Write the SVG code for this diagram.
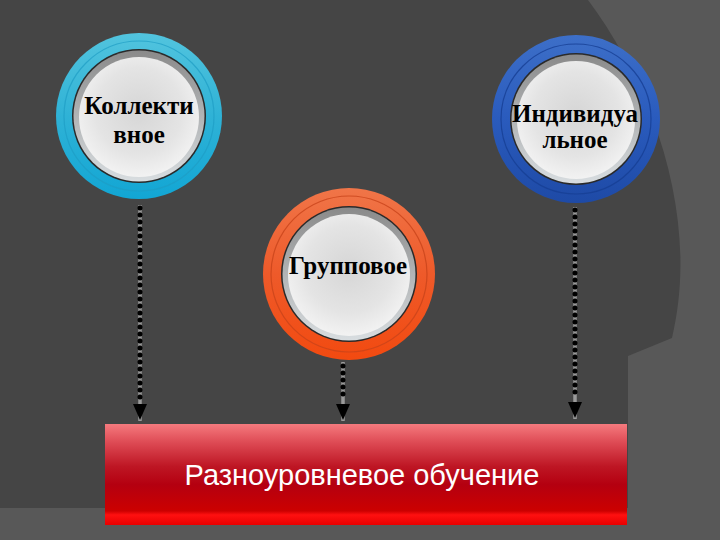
<svg xmlns="http://www.w3.org/2000/svg" width="720" height="540" viewBox="0 0 720 540">
<defs>
  <linearGradient id="gCyan" x1="0" y1="0" x2="0" y2="1">
    <stop offset="0" stop-color="#52c4de"/>
    <stop offset="0.5" stop-color="#2fb2d6"/>
    <stop offset="1" stop-color="#12a6d4"/>
  </linearGradient>
  <linearGradient id="gBlue" x1="0" y1="0" x2="0" y2="1">
    <stop offset="0" stop-color="#3d6fc8"/>
    <stop offset="0.5" stop-color="#2a5bbd"/>
    <stop offset="1" stop-color="#1e4aa6"/>
  </linearGradient>
  <linearGradient id="gOrange" x1="0" y1="0" x2="0" y2="1">
    <stop offset="0" stop-color="#f07548"/>
    <stop offset="0.5" stop-color="#ee5a2a"/>
    <stop offset="1" stop-color="#f24a10"/>
  </linearGradient>
  <radialGradient id="gWhite" cx="0.5" cy="0.45" r="0.6">
    <stop offset="0" stop-color="#d6d6d6"/>
    <stop offset="0.6" stop-color="#e4e4e4"/>
    <stop offset="1" stop-color="#f6f6f6"/>
  </radialGradient>
  <linearGradient id="gBevel" x1="0" y1="0" x2="0" y2="1">
    <stop offset="0" stop-color="#8a8a8a"/>
    <stop offset="1" stop-color="#d8dde0"/>
  </linearGradient>
  <linearGradient id="gRed" x1="0" y1="0" x2="0" y2="1">
    <stop offset="0" stop-color="#f57a7e"/>
    <stop offset="0.18" stop-color="#de4b55"/>
    <stop offset="0.42" stop-color="#be1624"/>
    <stop offset="0.6" stop-color="#b40010"/>
    <stop offset="0.86" stop-color="#cc0000"/>
    <stop offset="0.9" stop-color="#ff1010"/>
    <stop offset="1" stop-color="#e80000"/>
  </linearGradient>
  <marker id="arr" viewBox="0 0 16 14" refX="15" refY="7" markerWidth="16" markerHeight="14" markerUnits="userSpaceOnUse" orient="auto">
    <path d="M0,0 L16,7 L0,14 Z" fill="#000"/>
  </marker>
  <style>
    .lbl { font-family: "Liberation Serif", "Times New Roman", serif; font-weight: bold; font-size: 25px; fill: #000; text-anchor: middle; }
    .main { font-family: "Liberation Sans", Arial, sans-serif; font-size: 29px; fill: #ffffff; text-anchor: middle; }
    .dark { fill: #2a2a2a; }
    .bevel { fill: url(#gBevel); }
    .face { fill: url(#gWhite); }
    .gray { stroke: #9a9a9a; stroke-width: 3.5; fill: none; }
    .dots { stroke: #000; stroke-width: 5; stroke-linecap: round; stroke-dasharray: 0 7; fill: none; }
    .head { stroke: none; fill: none; }
  </style>
</defs>

<!-- background -->
<rect x="0" y="0" width="720" height="540" fill="#585858"/>
<path d="M0,0 H588 C655,90 700,220 672,338 L628,356 L628,508 L0,508 Z" fill="#454545"/>

<!-- connectors -->
<g id="connectors">
  <line class="gray" x1="140" y1="205" x2="140" y2="421"/>
  <line class="dots" x1="140" y1="208" x2="140" y2="400"/>
  <line class="head" x1="140" y1="400" x2="140" y2="419" marker-end="url(#arr)"/>
  <line class="gray" x1="343" y1="362" x2="343" y2="421"/>
  <line class="dots" x1="343" y1="366" x2="343" y2="400"/>
  <line class="head" x1="343" y1="400" x2="343" y2="419" marker-end="url(#arr)"/>
  <line class="gray" x1="575" y1="207" x2="575" y2="419"/>
  <line class="dots" x1="575" y1="210" x2="575" y2="398"/>
  <line class="head" x1="575" y1="398" x2="575" y2="417" marker-end="url(#arr)"/>
</g>

<!-- Коллективное -->
<g id="node-collective">
  <circle cx="139" cy="116" r="83" fill="url(#gCyan)"/>
  <circle cx="139" cy="116" r="75" fill="none" stroke="#1e9cc4" stroke-width="1.2" opacity="0.7"/>
  <circle cx="139" cy="116" r="67" class="dark"/>
  <circle cx="139" cy="116" r="65.5" class="bevel"/>
  <circle cx="139" cy="117" r="60" class="face"/>
  <text class="lbl" x="139" y="114">Коллекти</text>
  <text class="lbl" x="139" y="143">вное</text>
</g>

<!-- Индивидуальное -->
<g id="node-individual">
  <circle cx="576" cy="119" r="84" fill="url(#gBlue)"/>
  <circle cx="576" cy="119" r="75" fill="none" stroke="#173e94" stroke-width="1.2" opacity="0.8"/>
  <circle cx="576" cy="119" r="66" class="dark"/>
  <circle cx="576" cy="119" r="64.5" class="bevel"/>
  <circle cx="576" cy="120" r="59" class="face"/>
  <text class="lbl" x="575" y="122">Индивидуа</text>
  <text class="lbl" x="575" y="148">льное</text>
</g>

<!-- Групповое -->
<g id="node-group">
  <circle cx="349" cy="274" r="86" fill="url(#gOrange)"/>
  <circle cx="349" cy="274" r="78" fill="none" stroke="#c8431a" stroke-width="1.2" opacity="0.8"/>
  <circle cx="349" cy="274" r="68" class="dark"/>
  <circle cx="349" cy="274" r="66.5" class="bevel"/>
  <circle cx="349" cy="275" r="61" class="face"/>
  <text class="lbl" x="348" y="274">Групповое</text>
</g>

<!-- Разноуровневое обучение -->
<g id="node-main">
  <rect x="105" y="424" width="522" height="101" fill="url(#gRed)"/>
  <text class="main" x="362" y="485">Разноуровневое обучение</text>
</g>
</svg>
